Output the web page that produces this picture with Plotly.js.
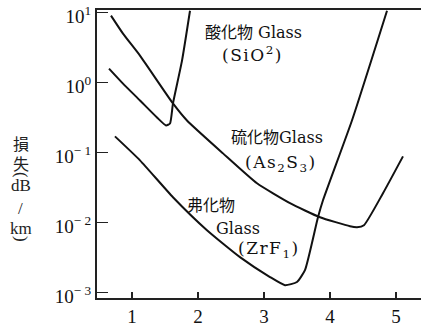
<!DOCTYPE html>
<html>
<head>
<meta charset="utf-8">
<script src="https://cdn.plot.ly/plotly-3.0.1.min.js"></script>
<style>html,body{margin:0;padding:0;background:#fff;}#chart{width:423px;height:326px;}</style>
</head>
<body>
<div id="chart"></div>
<script>
// Wavelength (μm) and loss (dB/km)
const sio2X = [0.652, 0.864, 1.121, 1.379, 1.515, 1.576, 1.621, 1.758, 1.879];
const sio2Y = [1.59, 0.97, 0.557, 0.318, 0.245, 0.261, 0.505, 2.07, 10.7];

const as2s3X = [0.682, 0.864, 1.121, 1.621, 1.833, 2.379, 2.894, 3.394, 3.848, 4.303, 4.41, 4.515, 4.803, 5.106];
const as2s3Y = [9.1, 5.03, 2.44, 0.505, 0.288, 0.0975, 0.0364, 0.0189, 0.0119, 0.00885, 0.00857, 0.00916, 0.0262, 0.0883];

const zrfX = [0.742, 1.121, 1.621, 2.136, 2.636, 3.091, 3.318, 3.5, 3.621, 3.818, 3.894, 4.333, 4.864];
const zrfY = [0.1706, 0.0775, 0.0230, 0.00776, 0.00320, 0.00166, 0.00127, 0.00141, 0.00208, 0.0119, 0.0208, 0.288, 10.7];

const xTickVals = [1, 2, 3, 4, 5];
const xTickText = ['1', '2', '3', '4', '5'];
const yTickVals = [10, 1, 0.1, 0.01, 0.001];
const yTickText = ['10<sup>1</sup>', '10<sup>0</sup>', '10<sup>− 1</sup>', '10<sup>− 2</sup>', '10<sup>− 3</sup>'];
const yTitleParts = ['損', '失', '(', 'dB', '/', 'km', ')'];

const lineStyle = {color: '#111', width: 2, shape: 'spline', smoothing: 0.5};
const traces = [
  {x: sio2X, y: sio2Y, mode: 'lines', line: lineStyle, name: 'SiO2'},
  {x: as2s3X, y: as2s3Y, mode: 'lines', line: lineStyle, name: 'As2S3'},
  {x: zrfX, y: zrfY, mode: 'lines', line: lineStyle, name: 'ZrF'}
];

const serif = '"DejaVu Serif", "Noto Sans CJK JP", serif';
const numFont = '"Liberation Serif"';
const cjkFont = '"Noto Sans CJK JP"';
const cjk = '<span style="font-size:16px">';
const sp = '<span style="letter-spacing:1.5px">';

// y title stacked vertically (paper positions)
const titleY = [0.537, 0.47, 0.428, 0.392, 0.3125, 0.243, 0.205];
const titleFonts = [cjkFont, cjkFont, numFont, numFont, numFont, numFont, numFont];
const titleSizes = [16, 16, 17, 17, 17, 17, 17];
const titleAngles = [0, 0, 90, 0, 0, 0, 90];
const titleAnn = yTitleParts.map((t, i) => ({
  xref: 'paper', yref: 'paper', x: -0.235, y: titleY[i], xanchor: 'center', yanchor: 'middle',
  showarrow: false, text: t, textangle: titleAngles[i],
  font: {family: titleFonts[i], size: titleSizes[i], color: '#222'}
}));

const layout = {
  width: 423, height: 326,
  margin: {l: 97, r: 2, t: 10, b: 28},
  paper_bgcolor: '#fff', plot_bgcolor: '#fff',
  showlegend: false,
  font: {family: serif, color: '#111'},
  xaxis: {
    range: [0.47, 5.379], showgrid: false, zeroline: false,
    showline: true, linecolor: '#222', linewidth: 2, mirror: true,
    ticks: 'inside', ticklen: 6, tickwidth: 1.2, tickcolor: '#222',
    tickmode: 'array', tickvals: xTickVals, ticktext: xTickText,
    tickfont: {family: numFont, size: 19, color: '#111'}
  },
  yaxis: {
    type: 'log', range: [-3.08, 1.04], showgrid: false, zeroline: false,
    showline: true, linecolor: '#222', linewidth: 2, mirror: false,
    ticks: 'inside', ticklen: 11, tickwidth: 1.2, tickcolor: '#222',
    tickmode: 'array', tickvals: yTickVals, ticktext: yTickText,
    tickfont: {family: numFont, size: 19, color: '#111'},
    ticklabelshift: 4, ticklabeloverflow: 'allow'
  },
  annotations: titleAnn.concat([
    {x: 2.84, y: 0.72, xref: 'x', yref: 'y', showarrow: false, xanchor: 'center',
     text: cjk + '酸化物</span> Glass', font: {size: 16}},
    {x: 2.82, y: 0.41, xref: 'x', yref: 'y', showarrow: false, xanchor: 'center',
     text: sp + '(SiO<sup>2</sup>)</span>', font: {size: 17}},
    {x: 3.2, y: -0.78, xref: 'x', yref: 'y', showarrow: false, xanchor: 'center',
     text: cjk + '硫化物</span>Glass', font: {size: 16}},
    {x: 3.26, y: -1.15, xref: 'x', yref: 'y', showarrow: false, xanchor: 'center',
     text: sp + '(As<sub>2</sub>S<sub>3</sub>)</span>', font: {size: 17}},
    {x: 2.2, y: -1.76, xref: 'x', yref: 'y', showarrow: false, xanchor: 'center',
     text: cjk + '弗化物</span>', font: {size: 16}},
    {x: 2.6, y: -2.08, xref: 'x', yref: 'y', showarrow: false, xanchor: 'center',
     text: 'Glass', font: {size: 16}},
    {x: 3.08, y: -2.38, xref: 'x', yref: 'y', showarrow: false, xanchor: 'center',
     text: sp + '(ZrF<sub>1</sub>)</span>', font: {size: 17}}
  ])
};

Plotly.newPlot('chart', traces, layout, {staticPlot: true, displayModeBar: false});
</script>
</body>
</html>
